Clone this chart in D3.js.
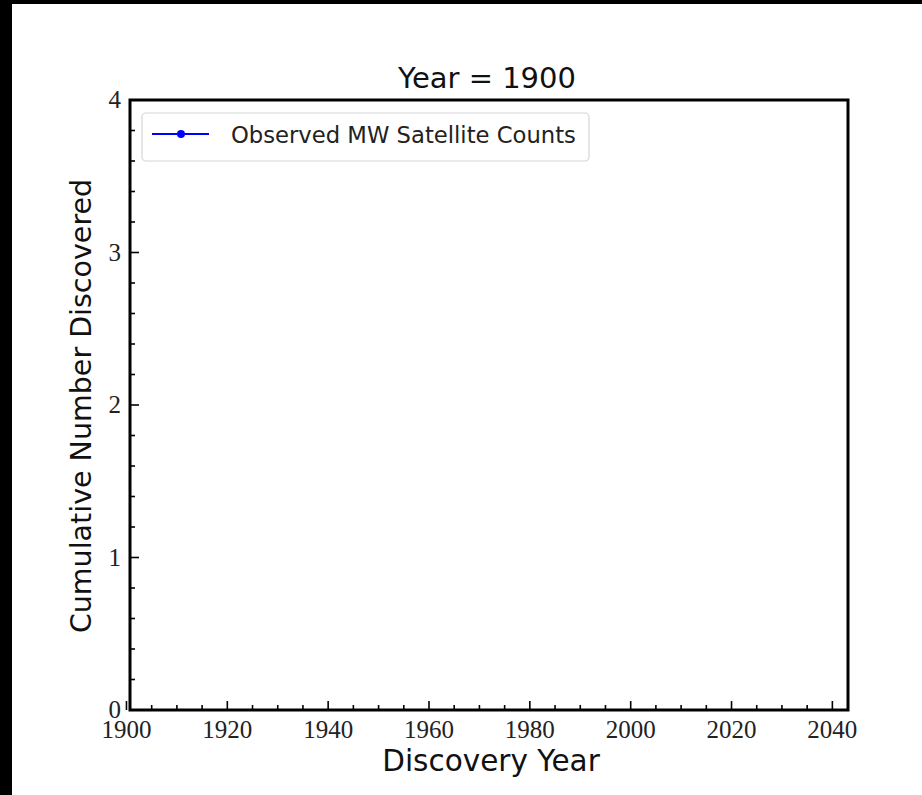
<!DOCTYPE html>
<html>
<head>
<meta charset="utf-8">
<script src="https://cdn.jsdelivr.net/npm/d3@7"></script>
<style>
  html, body { margin: 0; padding: 0; background: #000; }
  svg { display: block; }
</style>
</head>
<body>
<svg id="chart"></svg>
<script>
const width = 922
const height = 795

// data shown at this frame of the animation
const years = [1900]
const counts = [2]
const currentYear = 1900

const xTicks = [1900, 1920, 1940, 1960, 1980, 2000, 2020, 2040]
const yTicks = [0, 1, 2, 3, 4]

const margin = { left: 130, top: 100, right: 848, bottom: 710 }

const svg = d3.select('#chart').attr('width', width).attr('height', height)

// white figure area, black strip on top and left like the screenshot
svg.append('rect').attr('x', 12).attr('y', 4).attr('width', width - 12).attr('height', height - 4).attr('fill', '#fff')

const x = d3.scaleLinear().domain([1900.7, 2043.1]).range([margin.left, margin.right])
const y = d3.scaleLinear().domain([0, 4]).range([margin.bottom, margin.top])

svg.append('clipPath').attr('id', 'clip')
  .append('rect')
  .attr('x', margin.left).attr('y', margin.top)
  .attr('width', margin.right - margin.left).attr('height', margin.bottom - margin.top)

// ticks pointing inward
const xMinor = d3.range(1905, 2043, 5).filter(v => v % 20 !== 0)
const yMinor = d3.range(0.2, 4, 0.2).filter(v => Math.abs(v - Math.round(v)) > 1e-6)

const ticks = svg.append('g').attr('stroke', '#000').attr('stroke-width', 1.6)
ticks.selectAll('.xmaj').data(xTicks).enter().append('line')
  .attr('x1', d => x(d)).attr('x2', d => x(d))
  .attr('y1', margin.bottom).attr('y2', margin.bottom - 9)
ticks.selectAll('.xmin').data(xMinor).enter().append('line')
  .attr('x1', d => x(d)).attr('x2', d => x(d))
  .attr('y1', margin.bottom).attr('y2', margin.bottom - 5)
ticks.selectAll('.ymaj').data(yTicks).enter().append('line')
  .attr('y1', d => y(d)).attr('y2', d => y(d))
  .attr('x1', margin.left).attr('x2', margin.left + 9)
ticks.selectAll('.ymin').data(yMinor).enter().append('line')
  .attr('y1', d => y(d)).attr('y2', d => y(d))
  .attr('x1', margin.left).attr('x2', margin.left + 5)

// data line + markers
const plot = svg.append('g').attr('clip-path', 'url(#clip)')
const pts = years.map((d, i) => [d, counts[i]])
plot.append('path')
  .datum(pts)
  .attr('fill', 'none')
  .attr('stroke', '#0000ff')
  .attr('stroke-width', 2)
  .attr('d', d3.line().x(d => x(d[0])).y(d => y(d[1])))
plot.selectAll('circle').data(pts).enter().append('circle')
  .attr('cx', d => x(d[0])).attr('cy', d => y(d[1])).attr('r', 4)
  .attr('fill', '#0000ff')

// frame
svg.append('rect')
  .attr('x', margin.left).attr('y', margin.top)
  .attr('width', margin.right - margin.left).attr('height', margin.bottom - margin.top)
  .attr('fill', 'none').attr('stroke', '#000').attr('stroke-width', 3)

// tick labels
const serif = "'Liberation Serif', 'DejaVu Serif', serif"
svg.selectAll('.xlab').data(xTicks).enter().append('text')
  .attr('x', d => x(d)).attr('y', 738)
  .attr('text-anchor', 'middle')
  .style('font-family', serif).style('font-size', '25px').attr('fill', '#222')
  .text(d => d)
svg.selectAll('.ylab').data(yTicks).enter().append('text')
  .attr('x', 121).attr('y', d => y(d) + 8)
  .attr('text-anchor', 'end')
  .style('font-family', serif).style('font-size', '25px').attr('fill', '#222')
  .text(d => d)

const sans = "'DejaVu Sans', sans-serif"
const mid = (margin.left + margin.right) / 2

svg.append('text')
  .attr('x', mid - 2).attr('y', 88)
  .attr('text-anchor', 'middle')
  .style('font-family', sans).style('font-size', '29px').attr('fill', '#111')
  .text(`Year = ${currentYear}`)

svg.append('text')
  .attr('x', mid + 2).attr('y', 771)
  .attr('text-anchor', 'middle')
  .style('font-family', sans).style('font-size', '29.5px').attr('fill', '#111')
  .text('Discovery Year')

svg.append('text')
  .attr('transform', `translate(91, ${y(2) + 1}) rotate(-90)`)
  .attr('text-anchor', 'middle')
  .style('font-family', sans).style('font-size', '28.5px').attr('fill', '#111')
  .text('Cumulative Number Discovered')

// legend
const legend = svg.append('g')
legend.append('rect')
  .attr('x', 142).attr('y', 113).attr('width', 447).attr('height', 48)
  .attr('rx', 4)
  .attr('fill', '#fff').attr('stroke', '#d6d6d6').attr('stroke-width', 1.2)
legend.append('line')
  .attr('x1', 152).attr('x2', 209).attr('y1', 134).attr('y2', 134)
  .attr('stroke', '#0000ff').attr('stroke-width', 2)
legend.append('circle').attr('cx', 181).attr('cy', 134).attr('r', 4).attr('fill', '#0000ff')
legend.append('text')
  .attr('x', 231).attr('y', 143)
  .style('font-family', sans).style('font-size', '22.7px').attr('fill', '#222')
  .text('Observed MW Satellite Counts')
</script>
</body>
</html>
